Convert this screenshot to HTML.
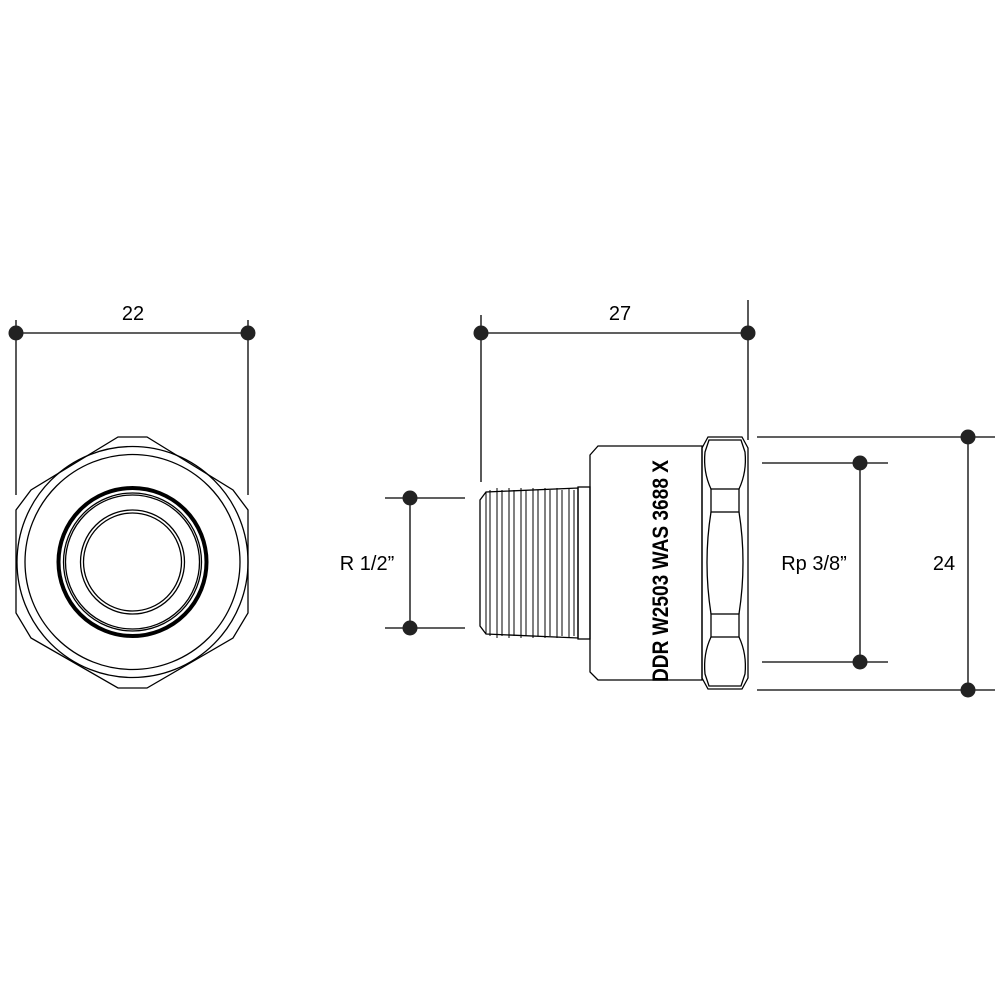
<!DOCTYPE html>
<html><head><style>body{margin:0;background:#fff}svg{display:block}</style></head><body>
<svg width="1000" height="1000" viewBox="0 0 1000 1000" xmlns="http://www.w3.org/2000/svg" font-family="Liberation Sans, Arial, sans-serif">
<rect width="1000" height="1000" fill="#fff"/>
<g stroke="#000" stroke-width="1.3" fill="none">
<!-- left view -->
<polygon points="118,437 147,437 233,490 248,510 248,613 233,638 147,688 118,688 31,638 16,613 16,510 31,490"/>
<circle cx="132.5" cy="562" r="115.5"/>
<circle cx="132.5" cy="562" r="107.5"/>
<circle cx="132.5" cy="562" r="74" stroke-width="4"/>
<circle cx="132.5" cy="562" r="69"/>
<circle cx="132.5" cy="562" r="67"/>
<circle cx="132.5" cy="562" r="52"/>
<circle cx="132.5" cy="562" r="49"/>
<!-- thread -->
<path d="M480,500 L486,492 L578,488 L578,638 L486,634 L480,626 Z"/>
<g stroke-width="1">
<path d="M486,492 L486,634 M490,490 L490,636 M497,488 L497,638 M502,490 L502,636 M509,488 L509,638 M514,490 L514,636 M521,488 L521,638 M526,490 L526,636 M533,488 L533,638 M538,490 L538,636 M545,488 L545,638 M550,490 L550,636 M557,488 L557,638 M562,490 L562,636 M569,488 L569,638 M574,490 L574,636"/>
</g>
<rect x="578" y="487" width="12" height="152"/>
<!-- body -->
<path d="M590,455 L598,446 L702,446 L702,680 L598,680 L590,672 Z"/>
<!-- hex nut -->
<path d="M702,448 L708,437 L742,437 L748,448 L748,678 L742,689 L708,689 L702,678 Z"/>
<path d="M711,489 Q703,472 705,452 L709,440 L741,440 L745,452 Q747,472 739,489"/>
<path d="M711,512 Q703,562 711,614 M739,512 Q747,562 739,614"/>
<path d="M711,637 Q703,654 705,674 L709,686 L741,686 L745,674 Q747,654 739,637"/>
<rect x="711" y="489" width="28" height="23"/>
<rect x="711" y="614" width="28" height="23"/>
</g>
<text transform="translate(668,682) rotate(-90)" font-size="22" font-weight="bold" textLength="222" lengthAdjust="spacingAndGlyphs" fill="#000">DDR W2503 WAS 3688 X</text>
<!-- dimensions -->
<g stroke="#000" stroke-width="1.3" fill="none">
<path d="M16,320 V495 M248,320 V495 M16,333 H248"/>
<path d="M481,315 V482 M748,300 V440 M481,333 H748"/>
<path d="M385,498 H465 M385,628 H465 M410,498 V628"/>
<path d="M762,463 H888 M762,662 H888 M860,463 V662"/>
<path d="M757,437 H995 M757,690 H995 M968,437 V690"/>
</g>
<g fill="#222">
<circle cx="16" cy="333" r="7.5"/><circle cx="248" cy="333" r="7.5"/>
<circle cx="481" cy="333" r="7.5"/><circle cx="748" cy="333" r="7.5"/>
<circle cx="410" cy="498" r="7.5"/><circle cx="410" cy="628" r="7.5"/>
<circle cx="860" cy="463" r="7.5"/><circle cx="860" cy="662" r="7.5"/>
<circle cx="968" cy="437" r="7.5"/><circle cx="968" cy="690" r="7.5"/>
</g>
<g font-size="20" fill="#000" text-anchor="middle">
<text x="133" y="320">22</text>
<text x="620" y="320">27</text>
<text x="367" y="570">R 1/2”</text>
<text x="814" y="570">Rp 3/8”</text>
<text x="944" y="570">24</text>
</g>
</svg>
</body></html>
